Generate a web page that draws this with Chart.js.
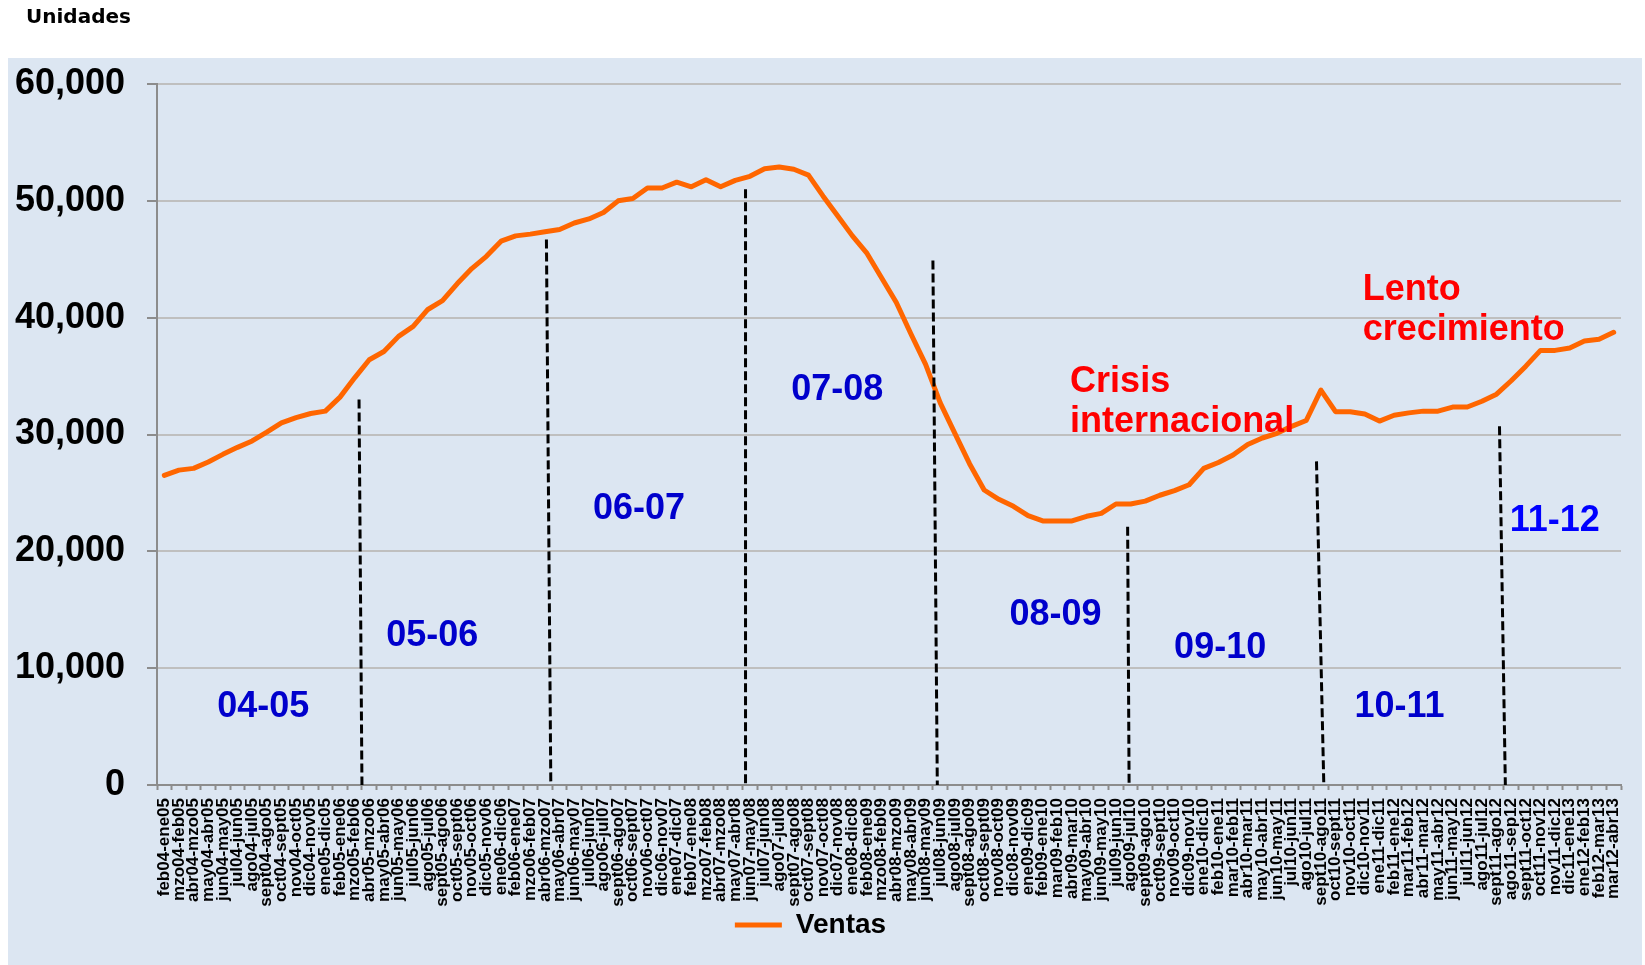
<!DOCTYPE html>
<html>
<head>
<meta charset="utf-8">
<script src="https://cdn.jsdelivr.net/npm/chart.js@4.4.0/dist/chart.umd.min.js"></script>
<style>
  html, body { margin: 0; padding: 0; background: #fff; }
  #wrap { width: 1645px; height: 965px; }
</style>
</head>
<body>
<div id="wrap"><canvas id="ventasChart" width="1645" height="965"></canvas></div>
<script>
// periodos de 12 meses (acumulado movil)
const periodos = [
  'feb04-ene05', 'mzo04-feb05', 'abr04-mzo05', 'may04-abr05', 'jun04-may05', 'jul04-jun05',
  'ago04-jul05', 'sept04-ago05', 'oct04-sept05', 'nov04-oct05', 'dic04-nov05', 'ene05-dic05',
  'feb05-ene06', 'mzo05-feb06', 'abr05-mzo06', 'may05-abr06', 'jun05-may06', 'jul05-jun06',
  'ago05-jul06', 'sept05-ago06', 'oct05-sept06', 'nov05-oct06', 'dic05-nov06', 'ene06-dic06',
  'feb06-ene07', 'mzo06-feb07', 'abr06-mzo07', 'may06-abr07', 'jun06-may07', 'jul06-jun07',
  'ago06-jul07', 'sept06-ago07', 'oct06-sept07', 'nov06-oct07', 'dic06-nov07', 'ene07-dic07',
  'feb07-ene08', 'mzo07-feb08', 'abr07-mzo08', 'may07-abr08', 'jun07-may08', 'jul07-jun08',
  'ago07-jul08', 'sept07-ago08', 'oct07-sept08', 'nov07-oct08', 'dic07-nov08', 'ene08-dic08',
  'feb08-ene09', 'mzo08-feb09', 'abr08-mzo09', 'may08-abr09', 'jun08-may09', 'jul08-jun09',
  'ago08-jul09', 'sept08-ago09', 'oct08-sept09', 'nov08-oct09', 'dic08-nov09', 'ene09-dic09',
  'feb09-ene10', 'mar09-feb10', 'abr09-mar10', 'may09-abr10', 'jun09-may10', 'jul09-jun10',
  'ago09-jul10', 'sept09-ago10', 'oct09-sept10', 'nov09-oct10', 'dic09-nov10', 'ene10-dic10',
  'feb10-ene11', 'mar10-feb11', 'abr10-mar11', 'may10-abr11', 'jun10-may11', 'jul10-jun11',
  'ago10-jul11', 'sept10-ago11', 'oct10-sept11', 'nov10-oct11', 'dic10-nov11', 'ene11-dic11',
  'feb11-ene12', 'mar11-feb12', 'abr11-mar12', 'may11-abr12', 'jun11-may12', 'jul11-jun12',
  'ago11-jul12', 'sept11-ago12', 'ago11-sep12', 'sept11-oct12', 'oct11-nov12', 'nov11-dic12',
  'dic11-ene13', 'ene12-feb13', 'feb12-mar13', 'mar12-abr13'
];

const ventas = [
  26500, 26950, 27100, 27650, 28300, 28900, 29450, 30200, 31000, 31450,
  31800, 32000, 33200, 34850, 36400, 37100, 38400, 39250, 40700, 41450,
  42900, 44200, 45250, 46550, 47000, 47150, 47350, 47550, 48100, 48450,
  49000, 50000, 50200, 51100, 51100, 51600, 51200, 51800, 51200, 51750,
  52100, 52750, 52900, 52700, 52200, 50400, 48700, 47000, 45500, 43400,
  41300, 38600, 36000, 32700, 30100, 27500, 25250, 24450, 23850, 23050,
  22600, 22600, 22600, 23000, 23250, 24050, 24050, 24300, 24800, 25200,
  25700, 27100, 27600, 28250, 29150, 29700, 30100, 30700, 31200, 33800,
  31950, 31950, 31750, 31150, 31650, 31850, 32000, 32000, 32350, 32350,
  32850, 33450, 34600, 35850, 37200, 37200, 37400, 38000, 38150, 38750
];

// etiquetas de cada año (posicion en indice de categoria y valor)
const etapas = ['04-05', '05-06', '06-07', '07-08', '08-09', '09-10', '10-11', '11-12'];
const etapaIdx = [6.76, 18.3, 32.42, 45.96, 60.87, 72.12, 84.37, 94.98];
const etapaValor = [6930, 13040, 23890, 34040, 14830, 11960, 6930, 22820];

// lineas punteadas entre años (limite de categoria arriba / abajo, valor del extremo superior)
const corteArriba = [13.8, 26.6, 40.2, 53.0, 66.3, 79.2, 91.7];
const corteAbajo = [14.0, 26.9, 40.2, 53.3, 66.4, 79.7, 92.1];
const corteValor = [33000, 46700, 51000, 44900, 22100, 27700, 30700];

// notas en rojo
const notas = [['Crisis', 'internacional'], ['Lento', 'crecimiento']];
const notaIdx = [61.87, 81.86];
const notaValor = [34760, 42650];

const FUENTE = '"Liberation Sans", Arial, sans-serif';

const fondo = {
  id: 'fondo',
  beforeDraw(chart) {
    const ctx = chart.ctx;
    ctx.save();
    ctx.fillStyle = '#ffffff';
    ctx.fillRect(0, 0, chart.width, chart.height);
    ctx.fillStyle = '#DCE6F2';
    ctx.fillRect(8, 58, 1634, chart.height - 58);
    ctx.fillStyle = '#000';
    ctx.font = 'bold 20px "DejaVu Sans"';
    ctx.textBaseline = 'middle';
    ctx.fillText('Unidades', 26, 18);
    ctx.restore();
  }
};

const marcas = {
  id: 'marcas',
  afterDatasetsDraw(chart) {
    const ctx = chart.ctx;
    const x = chart.scales.x, y = chart.scales.y;
    ctx.save();
    // lineas punteadas
    ctx.strokeStyle = '#000';
    ctx.lineWidth = 3;
    ctx.setLineDash([9, 4]);
    corteArriba.forEach((c, i) => {
      ctx.beginPath();
      ctx.moveTo(x.getPixelForValue(c - 0.5), y.getPixelForValue(corteValor[i]));
      ctx.lineTo(x.getPixelForValue(corteAbajo[i] - 0.5), y.getPixelForValue(0));
      ctx.stroke();
    });
    ctx.setLineDash([]);

    // años
    ctx.font = 'bold 36px ' + FUENTE;
    ctx.textAlign = 'center';
    ctx.textBaseline = 'alphabetic';
    etapas.forEach((t, i) => {
      ctx.fillStyle = t === '11-12' ? '#0000FF' : '#0000CC';
      ctx.fillText(t, x.getPixelForValue(etapaIdx[i]), y.getPixelForValue(etapaValor[i]) + 13);
    });

    // notas
    ctx.fillStyle = '#FF0000';
    ctx.textAlign = 'left';
    notas.forEach((lineas, i) => {
      const px = x.getPixelForValue(notaIdx[i]);
      const py = y.getPixelForValue(notaValor[i]);
      lineas.forEach((l, j) => ctx.fillText(l, px, py + 13 + j * 40.5));
    });
    ctx.restore();
  }
};

new Chart(document.getElementById('ventasChart'), {
  type: 'line',
  data: {
    labels: periodos,
    datasets: [{
      label: 'Ventas',
      data: ventas,
      borderColor: '#FF6600',
      backgroundColor: '#FF6600',
      borderWidth: 5,
      pointRadius: 0,
      tension: 0,
      borderJoinStyle: 'round',
      borderCapStyle: 'round'
    }]
  },
  options: {
    responsive: false,
    animation: false,
    layout: { padding: { left: 0, right: 24, top: 84, bottom: 16 } },
    scales: {
      x: {
        offset: true,
        grid: { offset: true, drawOnChartArea: false, tickLength: 5, tickColor: '#8C8C8C', tickWidth: 2 },
        border: { color: '#8C8C8C', width: 2 },
        ticks: {
          autoSkip: false, maxRotation: 90, minRotation: 90, padding: 8, color: '#000',
          font: { family: FUENTE, size: 17, weight: 'bold' }
        },
        afterFit: s => { s.height = 124; }
      },
      y: {
        min: 0,
        max: 60000,
        ticks: {
          stepSize: 10000, padding: 22, color: '#000',
          font: { family: FUENTE, size: 36, weight: 'bold' },
          callback: v => Number(v).toLocaleString('en-US')
        },
        grid: { color: '#BFBFBF', lineWidth: 2, tickLength: 10, tickColor: '#8C8C8C', tickWidth: 2 },
        border: { color: '#8C8C8C', width: 2 },
        afterFit: s => { s.width = 157; }
      }
    },
    plugins: {
      legend: {
        position: 'bottom',
        labels: {
          usePointStyle: true,
          pointStyle: 'line',
          pointStyleWidth: 47,
          padding: 2,
          color: '#000',
          font: { family: FUENTE, size: 28, weight: 'bold' }
        }
      },
      tooltip: { enabled: false }
    }
  },
  plugins: [fondo, marcas]
});
</script>
</body>
</html>
